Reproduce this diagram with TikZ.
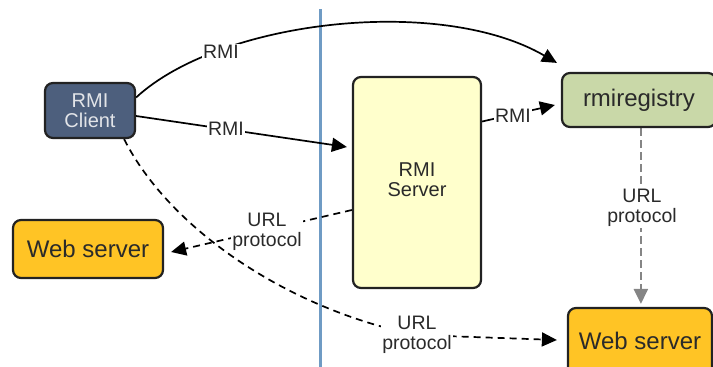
\documentclass[tikz,border=0pt]{standalone}
\usepackage{fontspec}
\setmainfont{Liberation Sans}
\usetikzlibrary{arrows.meta,calc}
\pgfdeclarelayer{bg}
\pgfsetlayers{bg,main}
\definecolor{clientfill}{HTML}{4D5F7D}
\definecolor{clienttext}{HTML}{E2E4E8}
\definecolor{serverfill}{HTML}{FFFFCC}
\definecolor{regfill}{HTML}{C9D8A8}
\definecolor{webfill}{HTML}{FFC425}
\definecolor{edgecol}{HTML}{222222}
\definecolor{txtcol}{HTML}{2A2A2A}
\definecolor{divider}{HTML}{6F9BC4}
\definecolor{graydash}{HTML}{858585}
\tikzset{
  box/.style={draw=edgecol, line width=2.2pt, rounded corners=8pt, inner sep=0pt, text=txtcol},
  bigtxt/.style={font=\fontsize{24}{26}\selectfont},
  midtxt/.style={font=\fontsize{20}{20}\selectfont, align=center},
  lbl/.style={fill=white, inner sep=1.5pt, text=txtcol, align=center, font=\fontsize{19.5}{20}\selectfont},
  conn/.style={draw=black, line width=1.7pt, -{Triangle[length=15pt,width=14pt]}},
  dconn/.style={conn, dash pattern=on 7pt off 5pt},
  gconn/.style={conn, draw=graydash, line width=2.4pt, dash pattern=on 8pt off 4pt},
}
\begin{document}
\begin{tikzpicture}[x=1pt,y=-1pt]
\useasboundingbox (0,0) rectangle (713,367);
% boxes
\node[box, fill=clientfill, text=clienttext, midtxt, minimum width=90pt, minimum height=55pt] (client) at (90,110.5) {RMI\\Client};
\node[box, fill=serverfill, midtxt, minimum width=128pt, minimum height=211pt] (server) at (417,182.5) {\raisebox{-7pt}{\begin{tabular}{@{}c@{}}RMI\\Server\end{tabular}}};
\node[box, fill=regfill, bigtxt, minimum width=154pt, minimum height=54pt] (reg) at (639,100) {rmiregistry};
\node[box, fill=webfill, bigtxt, minimum width=150pt, minimum height=58pt] (web1) at (88,249) {Web server};
\node[box, fill=webfill, bigtxt, minimum width=144pt, minimum height=68pt] (web2) at (640,342) {\raisebox{2pt}{Web server}};
% labels
\node[lbl] (l1) at (221,52) {RMI};
\node[lbl] (l2) at (226,129) {RMI};
\node[lbl] (l3) at (513,116) {RMI};
\node[lbl] (l4) at (267,232) {URL\\protocol};
\node[lbl] (l5) at (417,335) {URL\\protocol};
\node[lbl] (l6) at (642,208) {URL\\protocol};
\begin{pgfonlayer}{bg}
\coordinate (dtop) at (320,9);
\coordinate (dbot) at (320,372);
\draw[divider, line width=3pt] (dtop) -- (dbot);
\draw[conn] ($(client.east)+(0,-13)$) .. controls (220,20) and (440,-5) .. ($(reg.north west)+(-4,-9)$);
\draw[conn] ($(client.east)+(0,5.5)$) -- ($(server.west)+(-5,-35.5)$);
\draw[conn] ($(server.east)+(0,-61)$) -- ($(reg.west)+(-6,5)$);
\draw[dconn] ($(server.west)+(0,27.5)$) -- ($(web1.east)+(7,3)$);
\draw[dconn] ($(client.south east)+(-12,0)$) .. controls (170,230) and (290,310) .. (l5.center) -- ($(web2.west)+(-10,-2)$);
\draw[gconn] ($(reg.south west)+(80,0)$) -- ($(web2.north west)+(74,-3)$);
\end{pgfonlayer}
\end{tikzpicture}
\end{document}
